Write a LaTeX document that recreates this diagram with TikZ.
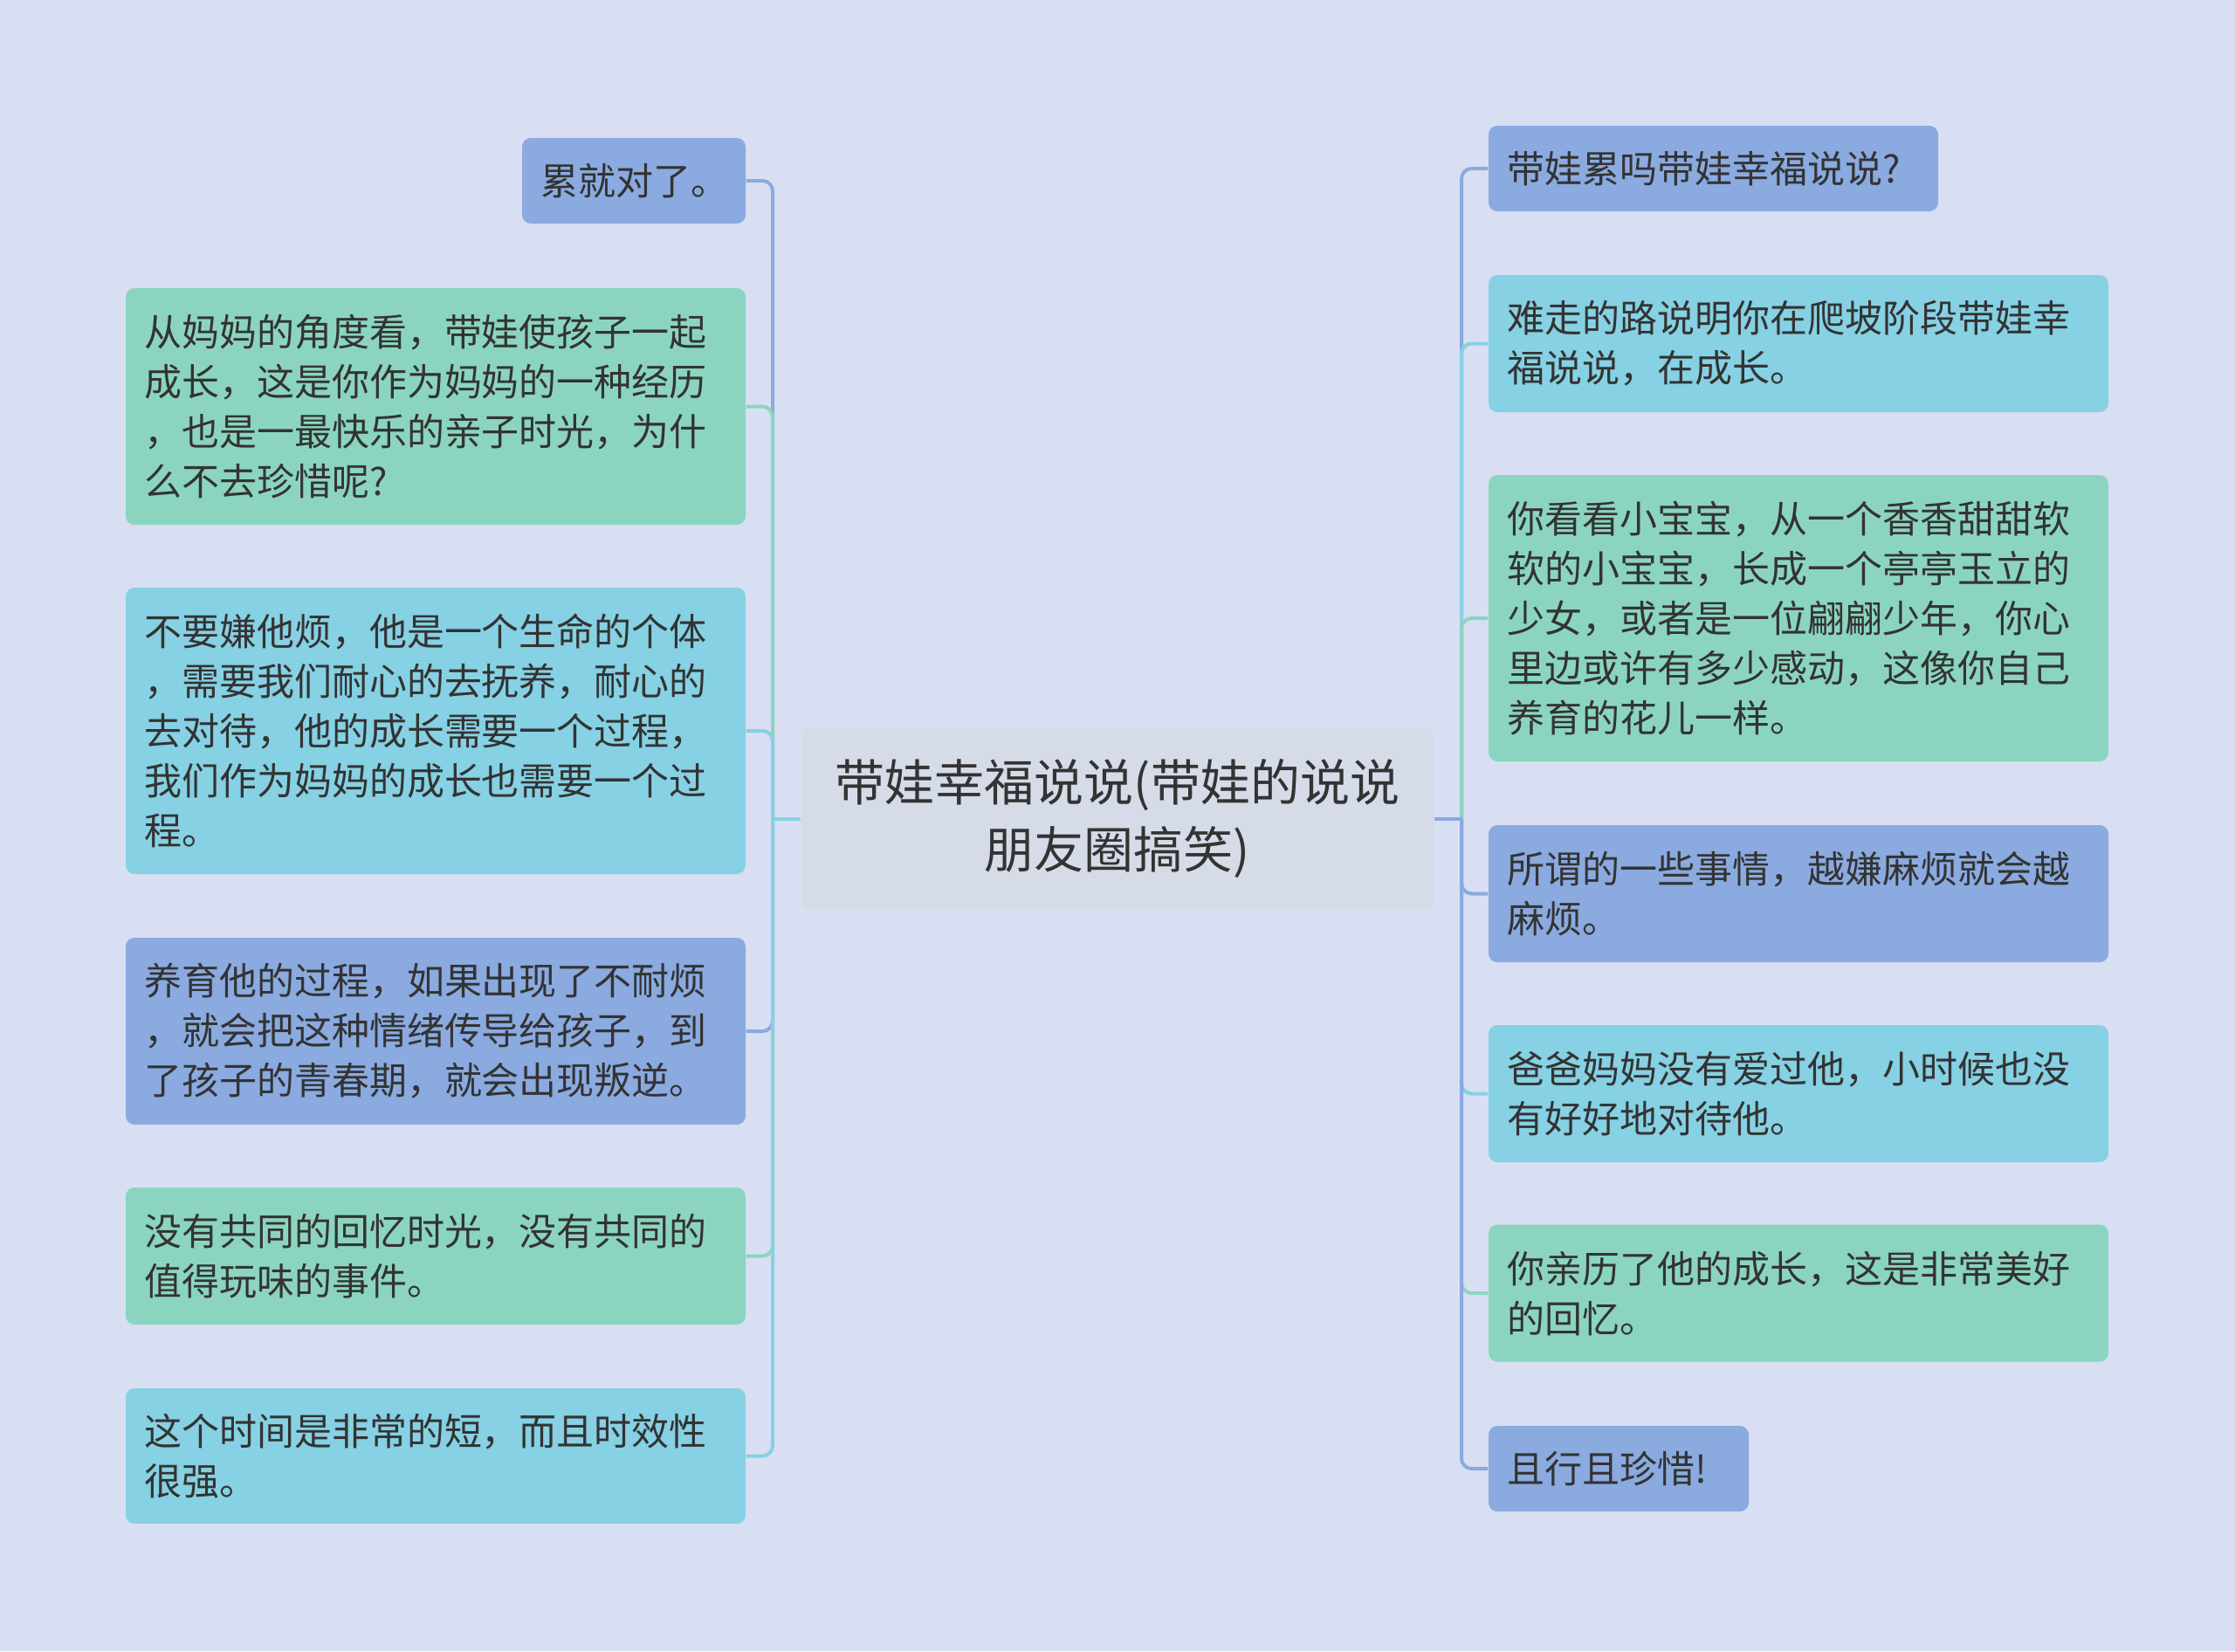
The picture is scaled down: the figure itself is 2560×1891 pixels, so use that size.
\documentclass[tikz,border=0pt]{standalone}
\usepackage{fontspec}
\newfontfamily\cjk{Noto Sans CJK SC}
\definecolor{bgc}{HTML}{D9DFF2}
\definecolor{cblue}{HTML}{8AAAE0}
\definecolor{cteal}{HTML}{86D1E3}
\definecolor{cgreen}{HTML}{8BD5C0}
\definecolor{ccenter}{HTML}{D5DCE8}
\definecolor{textc}{HTML}{333333}
\tikzset{
  box/.style={rounded corners=3pt, inner xsep=6.3pt, inner ysep=0pt, align=left,
    font=\cjk\fontsize{12.9}{17.1}\selectfont, text=textc},
  wide/.style={text width=200.4pt},
  conn/.style={line width=1.2pt, rounded corners=3.5pt},
}
\begin{document}
\begin{tikzpicture}[x=0.3pt,y=-0.3pt]
\useasboundingbox (0,0) rectangle (2560,1891);
\fill[bgc] (0,0) rectangle (2560,1891);

% center
\node[rounded corners=3pt, fill=ccenter, text=textc, align=center, text width=200pt,
  minimum width=217.2pt, minimum height=62.7pt, inner sep=0pt,
  font=\cjk\fontsize{17.1}{23}\selectfont] (c) at (1280,937.5)
  {带娃幸福说说(带娃的说说\\朋友圈搞笑)};

% left nodes
\node[box, fill=cblue, text width=64.2pt, minimum height=29.4pt] (l1) at (726,207) {累就对了。};
\node[box, wide, fill=cgreen, minimum height=81.3pt] (l2) at (499,465.5)
  {从妈妈的角度看，带娃使孩子一起\\成长，这是你作为妈妈的一种经历\\，也是一最快乐的亲子时光，为什\\么不去珍惜呢?};
\node[box, wide, fill=cteal, minimum height=98.4pt] (l3) at (499,837)
  {不要嫌他烦，他是一个生命的个体\\，需要我们耐心的去抚养，耐心的\\去对待，他的成长需要一个过程，\\我们作为妈妈的成长也需要一个过\\程。};
\node[box, wide, fill=cblue, minimum height=64.2pt] (l4) at (499,1181)
  {养育他的过程，如果出现了不耐烦\\，就会把这种情绪传导给孩子，到\\了孩子的青春期，就会出现叛逆。};
\node[box, wide, fill=cgreen, minimum height=47.1pt] (l5) at (499,1438.5)
  {没有共同的回忆时光，没有共同的\\值得玩味的事件。};
\node[box, wide, fill=cteal, minimum height=46.5pt] (l6) at (499,1667.5)
  {这个时间是非常的短，而且时效性\\很强。};

% right nodes
\node[box, fill=cblue, text width=141.9pt, minimum height=29.4pt] (r1) at (1962.5,193) {带娃累吗带娃幸福说说?};
\node[box, wide, fill=cteal, minimum height=47.1pt] (r2) at (2060,393.5)
  {难走的路说明你在爬坡阶段带娃幸\\福说说，在成长。};
\node[box, wide, fill=cgreen, minimum height=98.4pt] (r3) at (2060,708)
  {你看看小宝宝，从一个香香甜甜软\\软的小宝宝，长成一个亭亭玉立的\\少女，或者是一位翩翩少年，你心\\里边或许有多少感动，这像你自己\\养育的花儿一样。};
\node[box, wide, fill=cblue, minimum height=47.1pt] (r4) at (2060,1023.5)
  {所谓的一些事情，越嫌麻烦就会越\\麻烦。};
\node[box, wide, fill=cteal, minimum height=47.1pt] (r5) at (2060,1252.5)
  {爸爸妈妈没有爱过他，小时候也没\\有好好地对待他。};
\node[box, wide, fill=cgreen, minimum height=47.1pt] (r6) at (2060,1481)
  {你亲历了他的成长，这是非常美好\\的回忆。};
\node[box, fill=cblue, text width=76.8pt, minimum height=29.4pt] (r7) at (1854,1682) {且行且珍惜!};

% junctions
\coordinate (jL) at (885,937.5);
\coordinate (jR) at (1674,937.5);

% left connectors
\draw[conn, cblue]  (jL) |- (l1.east);
\draw[conn, cgreen] (jL) |- (l2.east);
\draw[conn, cteal]  (jL) |- (l3.east);
\draw[conn, cblue]  (jL) |- (l4.east);
\draw[conn, cgreen] (jL) |- (l5.east);
\draw[conn, cteal]  (jL) |- (l6.east);
\draw[line width=1.2pt, cteal] (c.west) -- (jL);

% right connectors
\draw[conn, cblue]  (jR) |- (r1.west);
\draw[conn, cteal]  (jR) |- (r2.west);
\draw[conn, cgreen] (jR) |- (r3.west);
\draw[conn, cblue]  (jR) |- (r4.west);
\draw[conn, cteal]  (jR) |- (r5.west);
\draw[conn, cgreen] (jR) |- (r6.west);
\draw[conn, cblue]  (jR) |- (r7.west);
\draw[line width=1.2pt, cblue] (c.east) -- (jR);
\end{tikzpicture}
\end{document}
